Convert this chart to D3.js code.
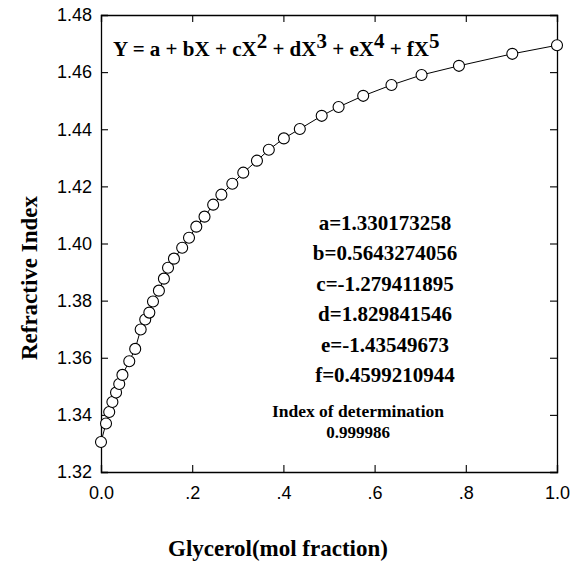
<!DOCTYPE html>
<html>
<head>
<meta charset="utf-8">
<script src="https://d3js.org/d3.v7.min.js"></script>
<style>
  html, body { margin: 0; padding: 0; background: #fff; }
  svg text { white-space: pre; }
</style>
</head>
<body>
<div id="chart"></div>
<script>
'use strict';

const molFraction = [
  0.000, 0.011, 0.018, 0.025, 0.033, 0.040, 0.047, 0.062, 0.075, 0.087,
  0.097, 0.106, 0.114, 0.127, 0.138, 0.147, 0.160, 0.178, 0.193, 0.209,
  0.227, 0.246, 0.264, 0.288, 0.312, 0.342, 0.368, 0.401, 0.436, 0.484,
  0.521, 0.575, 0.637, 0.703, 0.785, 0.902, 1.000
];
const refractiveIndex = [
  1.3305, 1.3370, 1.3410, 1.3445, 1.3478, 1.3508, 1.3540, 1.3588, 1.3631, 1.3699,
  1.3734, 1.3758, 1.3797, 1.3835, 1.3877, 1.3915, 1.3947, 1.3985, 1.4020, 1.4059,
  1.4094, 1.4136, 1.4171, 1.4209, 1.4248, 1.4290, 1.4328, 1.4368, 1.4401, 1.4447,
  1.4478, 1.4517, 1.4555, 1.4590, 1.4622, 1.4664, 1.4694
];

const xTicks = [0, 0.2, 0.4, 0.6, 0.8, 1.0];
const xTickLabels = ['0.0', '.2', '.4', '.6', '.8', '1.0'];
const yTicks = [1.32, 1.34, 1.36, 1.38, 1.40, 1.42, 1.44, 1.46, 1.48];

const coefLines = [
  'a=1.330173258',
  'b=0.5643274056',
  'c=-1.279411895',
  'd=1.829841546',
  'e=-1.43549673',
  'f=0.4599210944'
];

(function() {
  const width = 577, height = 564;
  const left = 101, right = 557, top = 15, bottom = 472;

  const svg = d3.select('#chart')
    .append('svg')
    .attr('width', width)
    .attr('height', height);

  const x = d3.scaleLinear().domain([0, 1]).range([left, right]);
  const y = d3.scaleLinear().domain([1.32, 1.48]).range([bottom, top]);

  const tickFont = '"Liberation Sans", Arial, sans-serif';
  const serif = '"Liberation Serif", "Times New Roman", serif';

  // Axes, ticks pointing inward
  svg.append('g')
    .attr('transform', `translate(0,${bottom})`)
    .call(d3.axisBottom(x).tickValues(xTicks)
      .tickFormat((d, i) => xTickLabels[i])
      .tickSize(-7).tickPadding(14));

  svg.append('g')
    .attr('transform', `translate(0,${top})`)
    .call(d3.axisTop(x).tickValues(xTicks).tickFormat('').tickSize(-7));

  svg.append('g')
    .attr('transform', `translate(${left},0)`)
    .call(d3.axisLeft(y).tickValues(yTicks)
      .tickFormat(d3.format('.2f'))
      .tickSize(-7).tickPadding(9));

  svg.append('g')
    .attr('transform', `translate(${right},0)`)
    .call(d3.axisRight(y).tickValues(yTicks).tickFormat('').tickSize(-7));

  svg.selectAll('.domain').attr('stroke', '#000').attr('stroke-width', 1.3);
  svg.selectAll('.tick line').attr('stroke', '#000').attr('stroke-width', 1.1);
  svg.selectAll('.tick text')
    .attr('fill', '#000')
    .style('font-family', tickFont)
    .style('font-size', '18px');

  // Data line and open circles
  const pts = molFraction.map((m, i) => [m, refractiveIndex[i]]);

  svg.append('path')
    .datum(pts)
    .attr('fill', 'none')
    .attr('stroke', '#000')
    .attr('stroke-width', 1)
    .attr('d', d3.line().x(d => x(d[0])).y(d => y(d[1])));

  svg.selectAll('circle.pt')
    .data(pts)
    .enter()
    .append('circle')
    .attr('class', 'pt')
    .attr('cx', d => x(d[0]))
    .attr('cy', d => y(d[1]))
    .attr('r', 5.5)
    .attr('fill', '#fff')
    .attr('stroke', '#000')
    .attr('stroke-width', 1.1);

  // Fit equation
  const eq = svg.append('text')
    .attr('x', 113)
    .attr('y', 56)
    .style('font-family', serif)
    .style('font-weight', 'bold')
    .style('font-size', '21px');
  const parts = [['Y = a + bX + cX', ''], ['2', 'sup'], [' + dX', ''], ['3', 'sup'],
    [' + eX', ''], ['4', 'sup'], [' + fX', ''], ['5', 'sup']];
  parts.forEach(p => {
    eq.append('tspan')
      .attr('dy', p[1] === 'sup' ? -8 : (p[0].startsWith(' ') ? 8 : 0))
      .text(p[0]);
  });

  // Coefficients
  svg.selectAll('text.coef')
    .data(coefLines)
    .enter()
    .append('text')
    .attr('class', 'coef')
    .attr('x', 385)
    .attr('y', (d, i) => 230 + i * 30.4)
    .attr('text-anchor', 'middle')
    .style('font-family', serif)
    .style('font-weight', 'bold')
    .style('font-size', '21px')
    .text(d => d);

  svg.append('text')
    .attr('x', 358)
    .attr('y', 417)
    .attr('text-anchor', 'middle')
    .style('font-family', serif)
    .style('font-weight', 'bold')
    .style('font-size', '17.5px')
    .text('Index of determination');

  svg.append('text')
    .attr('x', 358)
    .attr('y', 438)
    .attr('text-anchor', 'middle')
    .style('font-family', serif)
    .style('font-weight', 'bold')
    .style('font-size', '17px')
    .text('0.999986');

  // Axis titles
  svg.append('text')
    .attr('transform', 'translate(37,278) rotate(-90)')
    .attr('text-anchor', 'middle')
    .style('font-family', serif)
    .style('font-weight', 'bold')
    .style('font-size', '23px')
    .text('Refractive Index');

  svg.append('text')
    .attr('x', 278)
    .attr('y', 556)
    .attr('text-anchor', 'middle')
    .style('font-family', serif)
    .style('font-weight', 'bold')
    .style('font-size', '23px')
    .text('Glycerol(mol fraction)');
})();
</script>
</body>
</html>
